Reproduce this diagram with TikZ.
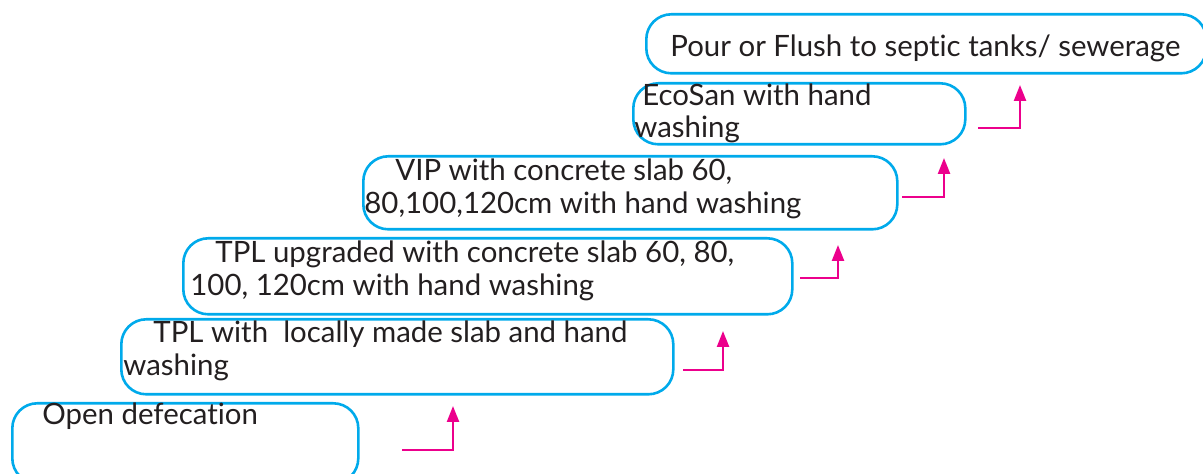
\documentclass[tikz,border=0pt]{standalone}
\usepackage{fontspec}
\setmainfont{Lato}[Ligatures=NoCommon]
\usetikzlibrary{arrows.meta}
\definecolor{boxblue}{RGB}{0,170,235}
\definecolor{arrmag}{RGB}{236,0,140}
\definecolor{txt}{RGB}{35,31,32}
\tikzset{
  stepbox/.style={draw=boxblue, line width=1.3pt, rounded corners=12.5pt, anchor=north west, inner sep=0pt},
  lbl/.style={anchor=base west, inner sep=0pt, text=txt, font=\fontsize{14.7}{17}\selectfont},
  arr/.style={draw=arrmag, line width=1.2pt, -{Triangle[length=8pt,width=6pt]}}
}
\begin{document}
\begin{tikzpicture}[x=0.5pt,y=-0.5pt]
\useasboundingbox (0,0) rectangle (1203,474);
% boxes
\node[stepbox, minimum width=346*0.5pt, minimum height=80*0.5pt] (b1) at (11,402) {};
\node[stepbox, minimum width=552*0.5pt, minimum height=75*0.5pt] (b2) at (120,318) {};
\node[stepbox, minimum width=609*0.5pt, minimum height=76*0.5pt] (b3) at (182,237) {};
\node[stepbox, minimum width=534*0.5pt, minimum height=73*0.5pt] (b4) at (362,155) {};
\node[stepbox, minimum width=332*0.5pt, minimum height=61*0.5pt] (b5) at (632,82) {};
\node[stepbox, minimum width=560*0.5pt, minimum height=59*0.5pt] (b6) at (645,13) {};
% texts
\node[lbl] (t1) at (42,425) {Open defecation};
\node[lbl] (t2a) at (153,343) {TPL with\ \ locally made slab and hand};
\node[lbl] (t2b) at (123,376) {washing};
\node[lbl] (t3a) at (215,263) {TPL upgraded with concrete slab 60, 80,};
\node[lbl] (t3b) at (190,296) {100, 120cm with hand washing};
\node[lbl] (t4a) at (395,181) {VIP with concrete slab 60,};
\node[lbl] (t4b) at (364,214) {80,100,120cm with hand washing};
\node[lbl] (t5a) at (642,106) {EcoSan with hand};
\node[lbl] (t5b) at (634,138) {washing};
\node[lbl] (t6) at (670,57) {Pour or Flush to septic tanks/ sewerage};
% arrows
\coordinate (a1s) at (402,450); \coordinate (a1c) at (453,450); \coordinate (a1e) at (453,406);
\coordinate (a2s) at (683,370); \coordinate (a2c) at (723,370); \coordinate (a2e) at (723,331);
\coordinate (a3s) at (800,278); \coordinate (a3c) at (838,278); \coordinate (a3e) at (838,245);
\coordinate (a4s) at (902,197); \coordinate (a4c) at (944,197); \coordinate (a4e) at (944,158);
\coordinate (a5s) at (978,128); \coordinate (a5c) at (1020,128); \coordinate (a5e) at (1020,85);
\draw[arr] (a1s) -- (a1c) -- (a1e);
\draw[arr] (a2s) -- (a2c) -- (a2e);
\draw[arr] (a3s) -- (a3c) -- (a3e);
\draw[arr] (a4s) -- (a4c) -- (a4e);
\draw[arr] (a5s) -- (a5c) -- (a5e);
\end{tikzpicture}
\end{document}
